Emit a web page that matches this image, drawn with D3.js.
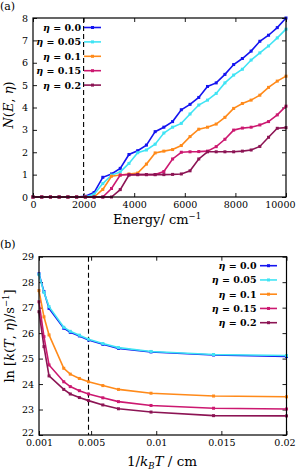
<!DOCTYPE html>
<html>
<head>
<meta charset="utf-8">
<script src="https://cdn.jsdelivr.net/npm/d3@7"></script>
<style>
  body { margin: 0; background: #fff; }
  svg { display: block; }
  text { font-family: "DejaVu Serif", "Liberation Serif", serif; fill: #000; }
</style>
</head>
<body>
<svg id="fig"></svg>
<script>
// ---- data ----
const etaLabels = ["0.0", "0.05", "0.1", "0.15", "0.2"];
const colors = ["#1414f0", "#40e4f4", "#ff8a1a", "#cc1870", "#8c1454"];

// panel (a): density of states
const energy = [0, 345, 690, 1034, 1379, 1724, 2069, 2414, 2759, 3103, 3448, 3793, 4138, 4483, 4828,
  5172, 5517, 5862, 6207, 6552, 6897, 7241, 7586, 7931, 8276, 8621, 8966, 9310, 9655, 10000];
const nEta00 = [0, 0, 0, 0, 0, 0, 0.03, 0.2, 0.88, 1.03, 1.28, 1.9, 2.07, 2.32, 2.92,
  3.12, 3.37, 3.9, 4.14, 4.45, 4.94, 5.1, 5.48, 5.92, 6.19, 6.52, 6.96, 7.23, 7.57, 8.0];
const nEta05 = [0, 0, 0, 0, 0, 0, 0, 0.12, 0.6, 0.98, 1.12, 1.5, 1.98, 2.1, 2.36,
  2.86, 3.12, 3.29, 3.71, 4.11, 4.33, 4.63, 5.1, 5.45, 5.71, 6.12, 6.44, 6.75, 7.11, 7.5];
const nEta10 = [0, 0, 0, 0, 0, 0, 0, 0, 0.34, 0.93, 0.98, 1.03, 1.07, 1.47, 1.97,
  2.05, 2.12, 2.3, 2.7, 3.03, 3.12, 3.26, 3.56, 3.96, 4.18, 4.33, 4.55, 4.9, 5.18, 5.4];
const nEta15 = [0, 0, 0, 0, 0, 0, 0, 0, 0, 0.38, 0.98, 1.0, 1.0, 1.0, 1.0,
  1.14, 1.7, 2.0, 2.02, 2.03, 2.05, 2.25, 2.58, 2.99, 3.08, 3.12, 3.22, 3.37, 3.67, 4.06];
const nEta20 = [0, 0, 0, 0, 0, 0, 0, 0, 0, 0, 0.33, 0.98, 1.0, 1.0, 1.0,
  1.0, 1.01, 1.03, 1.17, 1.7, 2.02, 2.02, 2.02, 2.02, 2.05, 2.1, 2.26, 2.67, 3.07, 3.1];

// panel (b): rate constants
const invKT = [0.001, 0.00138, 0.00177, 0.0029, 0.0034, 0.0041, 0.0048, 0.0059, 0.0071, 0.0096, 0.0144, 0.02];
const lnk00 = [28.33, 27.63, 26.97, 26.19, 26.03, 25.89, 25.73, 25.56, 25.40, 25.26, 25.14, 25.08];
const lnk05 = [28.3, 27.6, 27.04, 26.23, 26.07, 25.92, 25.76, 25.59, 25.43, 25.28, 25.16, 25.12];
const lnk10 = [27.67, 26.64, 25.93, 24.62, 24.39, 24.22, 24.09, 23.94, 23.79, 23.64, 23.53, 23.50];
const lnk15 = [27.23, 25.86, 24.75, 24.09, 23.90, 23.74, 23.61, 23.46, 23.31, 23.16, 23.05, 23.02];
const lnk20 = [26.84, 25.47, 24.32, 23.79, 23.61, 23.47, 23.35, 23.18, 23.03, 22.90, 22.76, 22.75];

const W = 296, H = 470;
const svg = d3.select("#fig").attr("width", W).attr("height", H);

function drawPanel(p) {
  const x = d3.scaleLinear().domain(p.xDomain).range([p.left, p.right]);
  const y = d3.scaleLinear().domain(p.yDomain).range([p.bottom, p.top]);
  const g = svg.append("g");

  // axes with inward ticks on all four sides
  const bottom = g.append("g").attr("transform", `translate(0,${p.bottom})`)
    .call(d3.axisBottom(x).tickValues(p.xTicks).tickFormat(p.xFmt).tickSizeInner(-4).tickSizeOuter(0).tickPadding(p.xPad));
  const left = g.append("g").attr("transform", `translate(${p.left},0)`)
    .call(d3.axisLeft(y).tickValues(p.yTicks).tickFormat(d3.format("d")).tickSizeInner(-4).tickSizeOuter(0).tickPadding(5));
  g.append("g").attr("transform", `translate(0,${p.top})`)
    .call(d3.axisTop(x).tickValues(p.xTicks).tickFormat("").tickSizeInner(-4).tickSizeOuter(0));
  g.append("g").attr("transform", `translate(${p.right},0)`)
    .call(d3.axisRight(y).tickValues(p.yTicks).tickFormat("").tickSizeInner(-4).tickSizeOuter(0));
  g.selectAll(".domain").remove();
  g.selectAll(".tick line").attr("stroke", "#000").attr("stroke-width", 0.9);
  g.selectAll(".tick text").attr("font-size", 9.5).attr("font-family", "DejaVu Serif");
  // last x label hugs the right edge of the page
  bottom.selectAll(".tick:last-of-type text").attr("text-anchor", "end").attr("x", W - 1 - p.right);
  // lowest y label sits a touch higher so it clears the first x label
  left.selectAll(".tick:first-of-type text").attr("y", -p.yLift);

  // dashed reference line
  g.append("line")
    .attr("x1", x(p.dash)).attr("x2", x(p.dash))
    .attr("y1", p.top).attr("y2", p.bottom)
    .attr("stroke", "#000").attr("stroke-width", 1.1).attr("stroke-dasharray", "5,3");

  // series
  const line = d3.line().x(d => x(d[0])).y(d => y(d[1]));
  p.series.forEach((vals, i) => {
    const pts = p.xs.map((v, k) => [v, vals[k]]);
    g.append("path").datum(pts)
      .attr("fill", "none").attr("stroke", colors[i]).attr("stroke-width", 1.6)
      .attr("d", line);
    g.selectAll(null).data(pts).enter().append("rect")
      .attr("x", d => x(d[0]) - 1.5).attr("y", d => y(d[1]) - 1.5)
      .attr("width", 3).attr("height", 3).attr("fill", colors[i]);
  });

  // frame
  g.append("rect")
    .attr("x", p.left).attr("y", p.top)
    .attr("width", p.right - p.left).attr("height", p.bottom - p.top)
    .attr("fill", "none").attr("stroke", "#000").attr("stroke-width", 1.2);

  // legend
  etaLabels.forEach((lab, i) => {
    const ly = p.legY + i * p.legStep;
    const t = g.append("text").attr("x", p.legTextX).attr("y", ly + 3.5)
      .attr("text-anchor", "end").attr("font-size", 9.5).attr("font-weight", "bold");
    t.append("tspan").attr("font-style", "italic").text("η");
    t.append("tspan").text(" = " + lab);
    g.append("line").attr("x1", p.legLineX).attr("x2", p.legLineX + 17)
      .attr("y1", ly).attr("y2", ly).attr("stroke", colors[i]).attr("stroke-width", 1.6);
    g.append("rect").attr("x", p.legLineX + 7).attr("y", ly - 1.5)
      .attr("width", 3).attr("height", 3).attr("fill", colors[i]);
  });

  // panel tag
  svg.append("text").attr("x", 0).attr("y", p.tagY).attr("font-size", 11).text(p.tag);
  return { x, y };
}

drawPanel({
  tag: "(a)", tagY: 10,
  left: 33, right: 286, top: 18, bottom: 197,
  xDomain: [0, 10000], yDomain: [0, 8],
  xTicks: [0, 2000, 4000, 6000, 8000, 10000], yTicks: d3.range(0, 9),
  xFmt: d3.format("d"), xPad: 4, yLift: 0, dash: 2000,
  xs: energy, series: [nEta00, nEta05, nEta10, nEta15, nEta20],
  legY: 27.5, legStep: 14.4, legTextX: 81, legLineX: 84
});

drawPanel({
  tag: "(b)", tagY: 248,
  left: 39, right: 286.5, top: 256.7, bottom: 435,
  xDomain: [0.001, 0.02], yDomain: [22, 29],
  xTicks: [0.001, 0.005, 0.01, 0.015, 0.02], yTicks: d3.range(22, 30),
  xFmt: d => String(+d.toFixed(3)), xPad: 4.5, yLift: 3, dash: 0.0048,
  xs: invKT, series: [lnk00, lnk05, lnk10, lnk15, lnk20],
  legY: 265.7, legStep: 14.25, legTextX: 256.5, legLineX: 260
});

// axis titles
const t1 = svg.append("text").attr("transform", "translate(13,105) rotate(-90)")
  .attr("text-anchor", "middle").attr("font-size", 13);
t1.append("tspan").attr("font-style", "italic").text("N");
t1.append("tspan").text("(");
t1.append("tspan").attr("font-style", "italic").text("E");
t1.append("tspan").text(", ");
t1.append("tspan").attr("font-style", "italic").text("η");
t1.append("tspan").text(")");

const t2 = svg.append("text").attr("x", 157).attr("y", 224)
  .attr("text-anchor", "middle").attr("font-size", 13);
t2.append("tspan").text("Energy/ cm");
t2.append("tspan").attr("dy", -5).attr("font-size", 8.5).text("−1");

const t3 = svg.append("text").attr("transform", "translate(13.5,336) rotate(-90)")
  .attr("text-anchor", "middle").attr("font-size", 13);
t3.append("tspan").text("ln [");
t3.append("tspan").attr("font-style", "italic").text("k");
t3.append("tspan").text("(");
t3.append("tspan").attr("font-style", "italic").text("T");
t3.append("tspan").text(", ");
t3.append("tspan").attr("font-style", "italic").text("η");
t3.append("tspan").text(")/s");
t3.append("tspan").attr("dy", -5).attr("font-size", 8.5).text("−1");
t3.append("tspan").attr("dy", 5).text("]");

const t4 = svg.append("text").attr("x", 162).attr("y", 466)
  .attr("text-anchor", "middle").attr("font-size", 13.5);
t4.append("tspan").text("1/");
t4.append("tspan").attr("font-style", "italic").text("k");
t4.append("tspan").attr("font-style", "italic").attr("font-size", 8.5).attr("dy", 2.5).text("B");
t4.append("tspan").attr("font-style", "italic").attr("dy", -2.5).text("T");
t4.append("tspan").text(" / cm");
</script>
</body>
</html>
